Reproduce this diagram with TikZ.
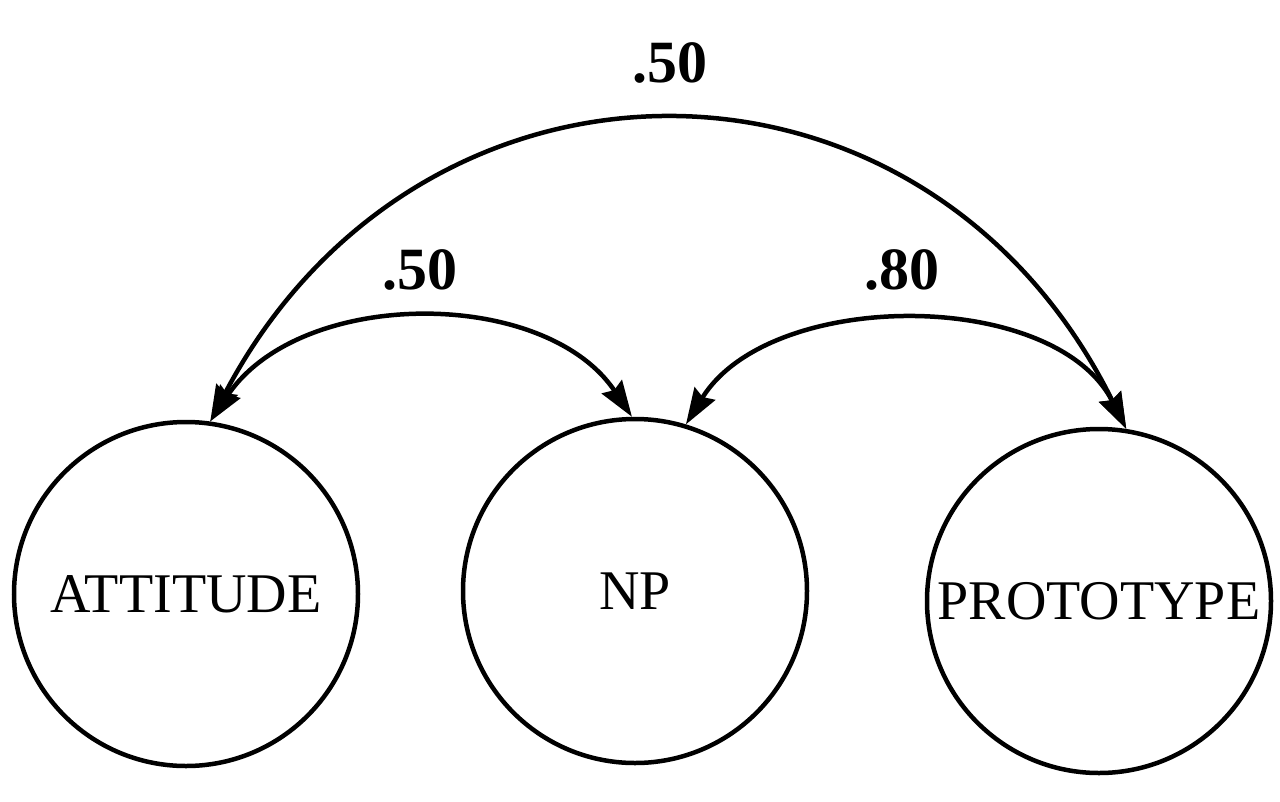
\documentclass[tikz,border=0pt]{standalone}
\usepackage{fontspec}
\setmainfont{Liberation Serif}
\usetikzlibrary{arrows.meta}
\tikzset{
  var/.style={draw, circle, line width=4.5pt, minimum size=344pt, inner sep=0pt,
    font=\fontsize{56}{60}\selectfont},
  cov/.style={line width=4.5pt, {Stealth[length=36pt,width=24pt,inset=4pt]}-{Stealth[length=36pt,width=24pt,inset=4pt]}},
  lab/.style={font=\fontsize{60}{64}\selectfont\bfseries, inner sep=0pt}
}
\begin{document}
\begin{tikzpicture}[x=1pt,y=-1pt]
\useasboundingbox (0,0) rectangle (1280,801);
\node[var] (A) at (186,594) {ATTITUDE};
\node[var] (N) at (635,591) {NP};
\node[var] (P) at (1099,601) {PROTOTYPE};
\draw[cov] (A.82) .. controls (420,22) and (925,22) .. (P.81);
\draw[cov] (A.82) .. controls (300,287) and (545,287) .. (N.91);
\draw[cov] (N.73) .. controls (770,288) and (1055,288) .. (P.81);
\node[lab] (l1) at (670,63) {.50};
\node[lab] (l2) at (420,270) {.50};
\node[lab] (l3) at (902,270) {.80};
\end{tikzpicture}
\end{document}
